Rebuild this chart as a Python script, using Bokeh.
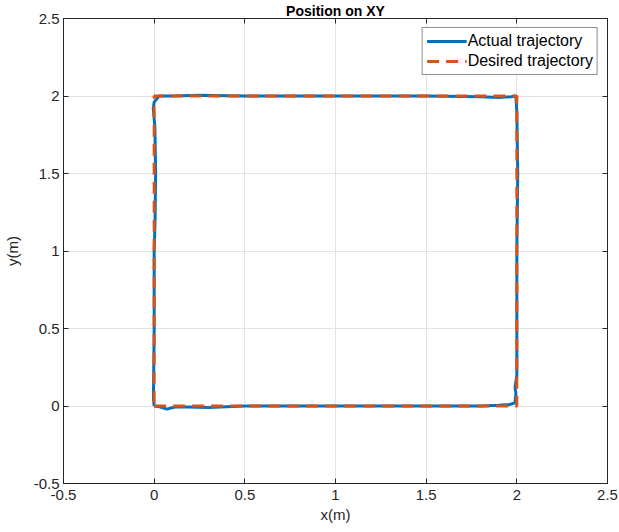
from bokeh.plotting import figure
from bokeh.models import LinearAxis, Legend, LegendItem, FixedTicker, Range1d
from bokeh.embed import file_html
from bokeh.resources import INLINE

# Desired trajectory (square)
desired_x = [0, 2, 2, 0, 0]
desired_y = [0, 0, 2, 2, 0]

# Actual trajectory
actual_x = [0.0, 0.03, 0.07, 0.12, 0.3, 0.5, 1.0, 1.5, 1.8, 1.9, 1.96, 1.99,
            1.995, 1.99, 2.0, 2.0, 2.0, 2.005, 2.0, 1.995, 1.99, 1.97, 1.9,
            1.8, 1.5, 1.0, 0.5, 0.25, 0.1, 0.03, 0.02, 0.0, -0.005, 0.004,
            0.008, 0.005, 0.0, 0.0, -0.004, 0.0]
actual_y = [0.0, -0.005, -0.02, -0.005, -0.01, 0.0, 0.0, 0.0, 0.0, 0.005,
            0.01, 0.02, 0.08, 0.12, 0.2, 0.5, 1.0, 1.5, 1.9, 1.99, 2.0, 1.995,
            1.99, 1.995, 2.0, 2.0, 2.0, 2.005, 2.0, 2.0, 1.99, 1.96, 1.92, 1.8,
            1.5, 1.2, 1.0, 0.5, 0.05, 0.0]

ticks = [-0.5, 0, 0.5, 1, 1.5, 2, 2.5]
tick_labels = ["-0.5", "0", "0.5", "1", "1.5", "2", "2.5"]

FONT = "Liberation Sans"
AX = "#262626"

p = figure(width=619, height=532, output_backend="svg", toolbar_location=None,
           x_range=Range1d(-0.5, 2.5), y_range=Range1d(-0.5, 2.5),
           min_border_left=63, min_border_right=12, min_border_top=0,
           min_border_bottom=49)

p.title.text = "Position on XY"
p.title.align = "center"
p.title.text_font = FONT
p.title.text_font_size = "14px"
p.title.text_font_style = "bold"
p.title.text_color = "#000000"
p.title.standoff = 0
p.title.offset = 0

overrides = {t: l for t, l in zip(ticks, tick_labels)}

for ax in [p.xaxis[0], p.yaxis[0]]:
    ax.ticker = FixedTicker(ticks=ticks)
    ax.major_label_overrides = overrides
    ax.major_tick_in = 5
    ax.major_tick_out = 0
    ax.minor_tick_line_color = None
    ax.axis_line_color = AX
    ax.major_tick_line_color = AX
    ax.major_label_text_font = FONT
    ax.major_label_text_font_size = "15px"
    ax.major_label_text_color = AX
    ax.axis_label_text_font = FONT
    ax.axis_label_text_font_size = "15px"
    ax.axis_label_text_font_style = "normal"
    ax.axis_label_text_color = AX

p.xaxis.major_label_standoff = 6
p.yaxis.major_label_standoff = 4
p.xaxis.axis_label = "x(m)"
p.yaxis.axis_label = "y(m)"
p.xaxis.axis_label_standoff = 3
p.yaxis.axis_label_standoff = 10

for loc in ["above", "right"]:
    a = LinearAxis(ticker=FixedTicker(ticks=ticks))
    a.major_tick_in = 5
    a.major_tick_out = 0
    a.minor_tick_line_color = None
    a.axis_line_color = AX
    a.major_tick_line_color = AX
    a.major_label_text_font_size = "0px"
    a.major_label_standoff = 0
    a.major_label_text_color = None
    p.add_layout(a, loc)

p.xgrid.ticker = FixedTicker(ticks=ticks)
p.ygrid.ticker = FixedTicker(ticks=ticks)
p.grid.grid_line_color = "#e3e3e3"
p.grid.grid_line_width = 1
p.outline_line_color = AX

r1 = p.line(actual_x, actual_y, line_color="#0072BD", line_width=3)
r2 = p.line(desired_x, desired_y, line_color="#D95319", line_width=3,
            line_dash="12 7")

legend = Legend(items=[LegendItem(label="Actual trajectory", renderers=[r1]),
                       LegendItem(label="Desired trajectory", renderers=[r2])],
                location="top_right")
legend.label_text_font = FONT
legend.label_text_font_size = "16px"
legend.label_text_color = "#000000"
legend.glyph_width = 40
legend.glyph_height = 18
legend.label_height = 18
legend.label_standoff = 1
legend.spacing = 2
legend.padding = 4
legend.margin = 9
legend.border_line_color = AX
legend.border_line_width = 1
legend.background_fill_color = "white"
legend.background_fill_alpha = 1
p.add_layout(legend)

open("out.html", "w").write(file_html(p, INLINE))
